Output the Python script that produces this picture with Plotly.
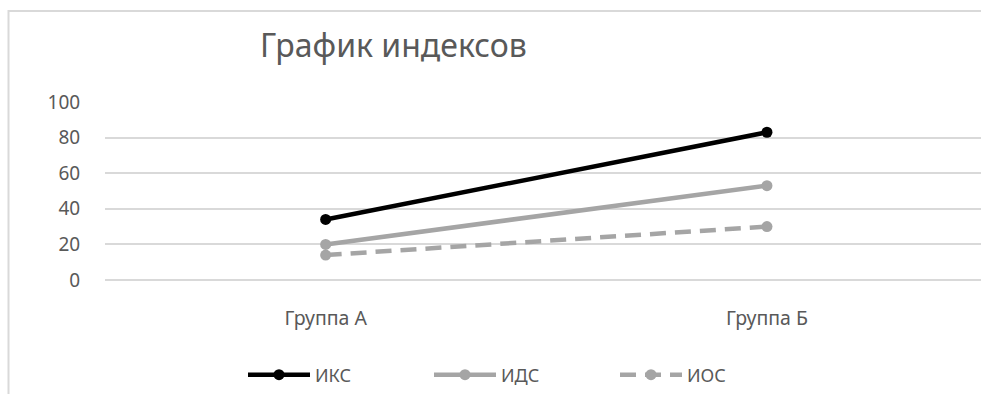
import plotly.graph_objects as go

categories = ["Группа А", "Группа Б"]
iks = [34, 83]
ids = [20, 53]
ios = [14, 30]
series_names = ["ИКС", "ИДС", "ИОС"]
y_ticks = [0, 20, 40, 60, 80, 100]
title_text = "График индексов"

W, H = 981, 394
L, R, T, B = 105, 0, 102, 112
pw, ph = W - L - R, H - T - B

def px2x(p):
    return (p - L) / pw

def py2y(p):
    return (H - B - p) / ph

FONT = "Noto Sans"
TXT = "#595959"

xpos = list(range(len(categories)))

fig = go.Figure()
fig.add_trace(go.Scatter(x=xpos, y=iks, name=series_names[0], mode="lines+markers",
                         line=dict(color="#000000", width=4.5),
                         marker=dict(size=11, color="#000000")))
fig.add_trace(go.Scatter(x=xpos, y=ids, name=series_names[1], mode="lines+markers",
                         line=dict(color="#a5a5a5", width=4.5),
                         marker=dict(size=11, color="#a5a5a5")))
fig.add_trace(go.Scatter(x=xpos, y=ios, name=series_names[2], mode="lines+markers",
                         line=dict(color="#a5a5a5", width=4.5, dash="16px,9px"),
                         marker=dict(size=11, color="#a5a5a5")))

fig.update_layout(
    width=W, height=H,
    margin=dict(l=L, r=R, t=T, b=B, pad=0),
    paper_bgcolor="white", plot_bgcolor="white",
    font=dict(family=FONT, color=TXT, size=18),
    showlegend=True,
    legend=dict(orientation="h", x=px2x(243), xanchor="left",
                y=py2y(378), yanchor="middle",
                font=dict(size=18, color=TXT, family=FONT),
                itemwidth=62,
                entrywidth=109, entrywidthmode="pixels",
                bgcolor="rgba(0,0,0,0)"),
    xaxis=dict(range=[-0.5, 1.485], tickmode="array", tickvals=xpos, ticktext=categories,
               showgrid=False, zeroline=False, showline=False,
               ticks="outside", ticklen=21, tickcolor="rgba(0,0,0,0)",
               tickfont=dict(size=19.5, color=TXT, family=FONT)),
    yaxis=dict(range=[0, 100], tickmode="array", tickvals=y_ticks,
               showgrid=True, gridcolor="#d9d9d9", gridwidth=1.5,
               zeroline=True, zerolinecolor="#d9d9d9", zerolinewidth=1.5,
               showline=False,
               ticks="outside", ticklen=20, tickcolor="rgba(0,0,0,0)",
               tickfont=dict(size=19, color=TXT, family=FONT)),
    annotations=[dict(text=title_text, xref="paper", yref="paper",
                      x=px2x(393), y=py2y(44), xanchor="center", yanchor="middle",
                      showarrow=False, font=dict(size=32, color=TXT, family=FONT))],
    shapes=[dict(type="path", xref="paper", yref="paper",
                 path=f"M {px2x(8.5)} {py2y(400)} L {px2x(8.5)} {py2y(10)} L {px2x(990)} {py2y(10)}",
                 line=dict(color="#d9d9d9", width=2))],
)

fig.write_html("out.html", config={"displayModeBar": False})
